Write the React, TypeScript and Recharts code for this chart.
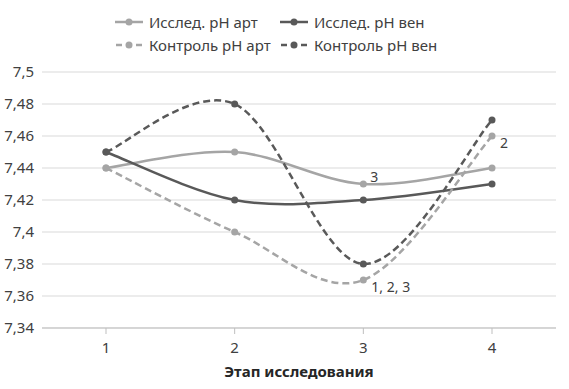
import React from "react"
import { LineChart, Line, XAxis, YAxis, CartesianGrid } from "recharts"

// stages along the x axis
const stages = ["1", "2", "3", "4"]

// pH values
const researchArt = [7.44, 7.45, 7.43, 7.44]
const researchVen = [7.45, 7.42, 7.42, 7.43]
const controlArt = [7.44, 7.40, 7.37, 7.46]
const controlVen = [7.45, 7.48, 7.38, 7.47]

// annotation marks on points
const researchArtNotes = ["", "", "3", ""]
const controlArtNotes = ["", "", "1, 2, 3", "2"]

const yTicks = [7.34, 7.36, 7.38, 7.4, 7.42, 7.44, 7.46, 7.48, 7.5]

const LIGHT = "#a5a5a5"
const DARK = "#595959"
const TEXT = "#404040"
const FONT = "'Noto Sans', sans-serif"

const data = stages.map((s, i) => ({
  stage: s,
  researchArt: researchArt[i],
  researchVen: researchVen[i],
  controlArt: controlArt[i],
  controlVen: controlVen[i],
}))

const series = [
  { key: "researchArt", name: "Исслед. pH арт", color: LIGHT, dashed: false },
  { key: "researchVen", name: "Исслед. pH вен", color: DARK, dashed: false },
  { key: "controlArt", name: "Контроль pH арт", color: LIGHT, dashed: true },
  { key: "controlVen", name: "Контроль pH вен", color: DARK, dashed: true },
]

// smoothed line like the office "smooth line" option (catmull-rom style beziers)
const smoothCurve = (context: any) => {
  let pts: number[][] = []
  return {
    areaStart() {},
    areaEnd() {},
    lineStart() {
      pts = []
    },
    point(x: number, y: number) {
      pts.push([+x, +y])
    },
    lineEnd() {
      if (!pts.length) return
      context.moveTo(pts[0][0], pts[0][1])
      for (let i = 0; i < pts.length - 1; i++) {
        const p0 = pts[i - 1] || pts[i]
        const p1 = pts[i]
        const p2 = pts[i + 1]
        const p3 = pts[i + 2] || pts[i + 1]
        context.bezierCurveTo(
          p1[0] + (p2[0] - p0[0]) / 6,
          p1[1] + (p2[1] - p0[1]) / 6,
          p2[0] - (p3[0] - p1[0]) / 6,
          p2[1] - (p3[1] - p1[1]) / 6,
          p2[0],
          p2[1]
        )
      }
    },
  }
}

const noteLabel = (notes: string[], dx: number, dy: number) => (props: any) => {
  const { x, y, index } = props
  const note = notes[index]
  if (!note) return <g key={index} />
  return (
    <text key={index} x={x + dx} y={y + dy} fill={TEXT} fontSize={14} fontFamily={FONT}>
      {note}
    </text>
  )
}

function LegendIcon({ color, dashed }: { color: string; dashed: boolean }) {
  return (
    <svg width={28} height={10} style={{ marginRight: 6 }}>
      {dashed ? (
        <>
          <line x1={1} y1={5} x2={7} y2={5} stroke={color} strokeWidth={2.5} />
          <line x1={21} y1={5} x2={27} y2={5} stroke={color} strokeWidth={2.5} />
        </>
      ) : (
        <line x1={0} y1={5} x2={28} y2={5} stroke={color} strokeWidth={2.5} />
      )}
      <circle cx={14} cy={5} r={3.5} fill={color} />
    </svg>
  )
}

export default function App() {
  return (
    <div style={{ position: "absolute", left: 0, top: 0, width: 569, height: 389, background: "#fff", fontFamily: FONT }}>
      <div style={{ position: "absolute", left: 115, top: 11, display: "grid", gridTemplateColumns: "165px 180px", rowGap: 1 }}>
        {series.map((s) => (
          <div key={s.key} style={{ display: "flex", alignItems: "center", height: 22, fontSize: 15, color: TEXT }}>
            <LegendIcon color={s.color} dashed={s.dashed} />
            <span>{s.name}</span>
          </div>
        ))}
      </div>
      <LineChart width={569} height={389} data={data} margin={{ top: 72, right: 13, left: 0, bottom: 0 }}>
        <CartesianGrid vertical={false} stroke="#d9d9d9" strokeWidth={1} />
        <XAxis
          dataKey="stage"
          height={61}
          stroke="#bfbfbf"
          padding={{ left: 64, right: 64 }}
          tickSize={6}
          tickMargin={8}
          tick={{ fill: TEXT, fontSize: 15, fontFamily: FONT }}
          label={{
            value: "Этап исследования",
            position: "insideBottom",
            offset: 12,
            fill: "#262626",
            fontSize: 15,
            fontWeight: 700,
            fontFamily: FONT,
          }}
        />
        <YAxis
          domain={[7.34, 7.5]}
          ticks={yTicks}
          width={42}
          axisLine={false}
          tickLine={false}
          interval={0}
          tick={{ fill: TEXT, fontSize: 15, fontFamily: FONT }}
          tickFormatter={(v: number) => String(+v.toFixed(2)).replace(".", ",")}
        />
        {series.map((s) => (
          <Line
            key={s.key}
            dataKey={s.key}
            name={s.name}
            type={smoothCurve as any}
            stroke={s.color}
            strokeWidth={2.5}
            strokeDasharray={s.dashed ? "7 4" : undefined}
            dot={{ r: 3.5, fill: s.color, stroke: s.color, strokeWidth: 0 }}
            activeDot={false}
            isAnimationActive={false}
          />
        ))}
        <Line
          dataKey="researchArt"
          stroke="none"
          dot={false}
          activeDot={false}
          isAnimationActive={false}
          legendType="none"
          label={noteLabel(researchArtNotes, 7, -2)}
        />
        <Line
          dataKey="controlArt"
          stroke="none"
          dot={false}
          activeDot={false}
          isAnimationActive={false}
          legendType="none"
          label={noteLabel(controlArtNotes, 8, 12)}
        />
      </LineChart>
    </div>
  )
}
